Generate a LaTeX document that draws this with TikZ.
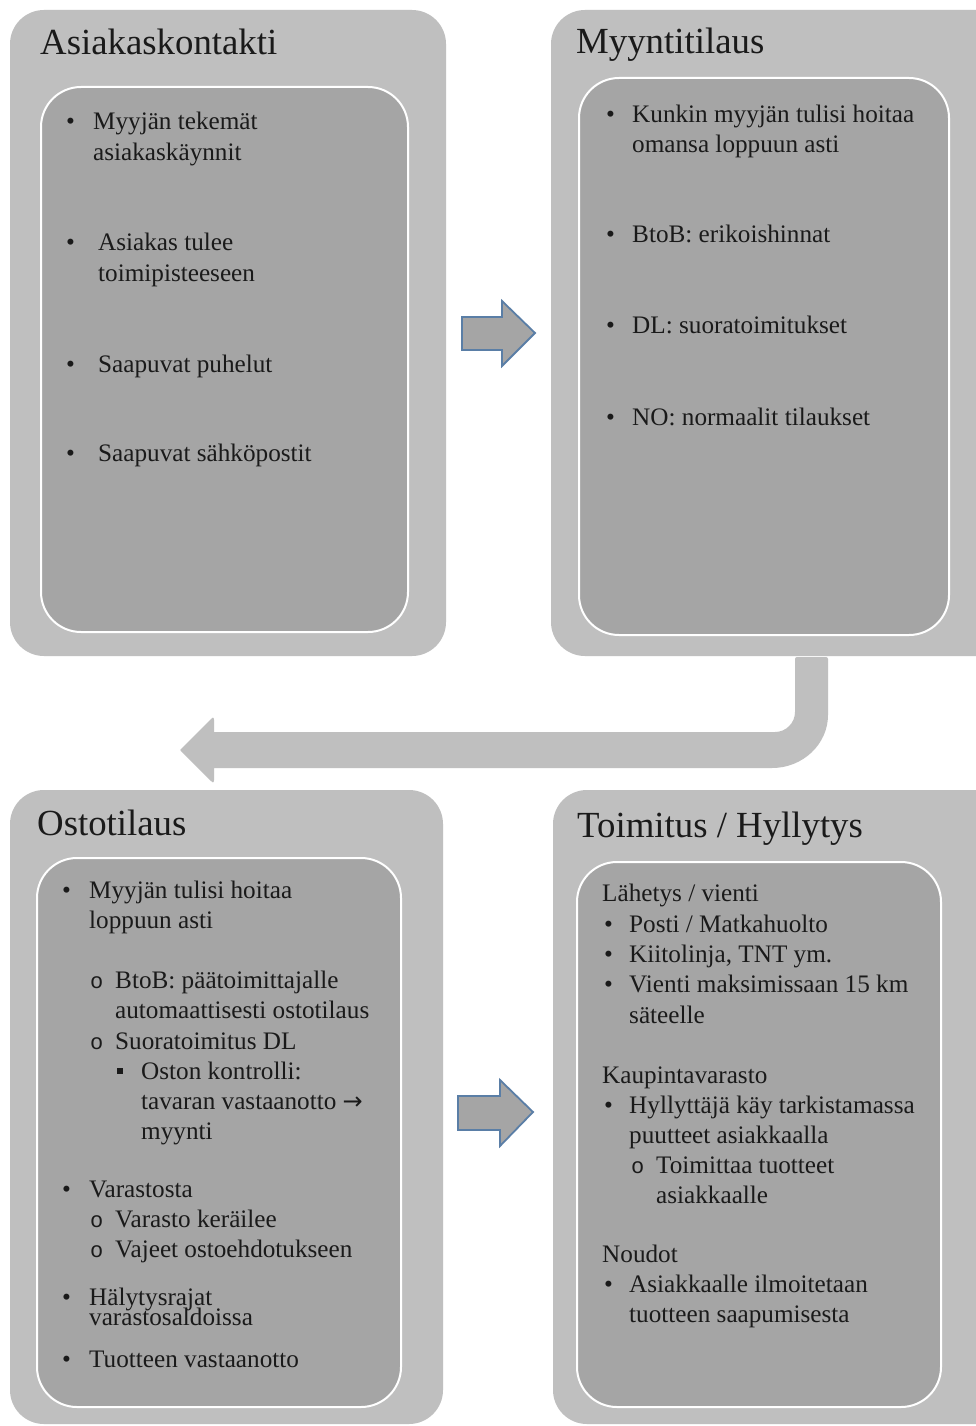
\documentclass[tikz,border=0pt]{standalone}
\usepackage{fontspec}
\setmainfont{Liberation Serif}
\newfontfamily\monof{Liberation Mono}
\newfontfamily\dejav{DejaVu Sans}
\definecolor{outerc}{HTML}{BFBFBF}
\definecolor{innerc}{HTML}{A5A5A5}
\definecolor{textc}{HTML}{1A1A1A}
\definecolor{arrowedge}{HTML}{5A7EA6}
\newcommand\bodyf{\fontsize{25.2}{30}\selectfont}
\newcommand\titlef{\fontsize{36.8}{40}\selectfont}
\newcommand\mytx[4]{\node[txt] (#1) at (#2,#3) {#4};}
\newcommand\mybu[3]{\node[txt] (#1) at (#2,#3) {•};}
\newcommand\myci[3]{\node[txt,font=\monof\fontsize{22}{26}\selectfont] (#1) at (#2,#3) {o};}
\newcommand\mysq[3]{\node[sqb] (#1) at (#2,#3) {};}
\begin{document}
\begin{tikzpicture}[x=1pt,y=-1pt,
  outerbox/.style={fill=outerc, rounded corners=34pt, inner sep=0pt},
  innerbox/.style={fill=innerc, draw=white, line width=2pt, rounded corners=40pt, inner sep=0pt},
  txt/.style={anchor=base west, inner sep=0pt, font=\bodyf, text=textc},
  ttl/.style={anchor=base west, inner sep=0pt, font=\titlef, text=textc},
  sqb/.style={fill=textc, minimum size=6.5pt, inner sep=0pt, anchor=center},
  blockarrow/.style={fill=innerc, draw=arrowedge, line width=1.8pt, line join=miter},
  bentarrow/.style={fill=outerc}]
\useasboundingbox (0,0) rectangle (976,1426);
\fill[white] (0,0) rectangle (976,1426);
% boxes
\path[outerbox] (10,10) rectangle (446,656);
\path[innerbox] (41,87) rectangle (408,632);
\path[outerbox] (551,10) rectangle (1010,656);
\path[innerbox] (579,78) rectangle (949,635);
\path[outerbox] (10,790) rectangle (443,1424);
\path[innerbox] (37,858) rectangle (401,1407);
\path[outerbox] (553,790) rectangle (1010,1424);
\path[innerbox] (577,862) rectangle (941,1407);
% titles
\node[ttl] (t1) at (40,55) {Asiakaskontakti};
\node[ttl] (t2) at (576,54) {Myyntitilaus};
\node[ttl] (t3) at (37,835) {Ostotilaus};
\node[ttl] (t4) at (577,837) {Toimitus / Hyllytys};
% block arrows
\draw[blockarrow] (462,317) -- (502,317) -- (502,301) -- (535,333) -- (502,366) -- (502,350) -- (462,350) -- cycle;
\draw[blockarrow] (458,1096) -- (500,1096) -- (500,1080) -- (533,1112) -- (500,1146) -- (500,1130) -- (458,1130) -- cycle;
% bent arrow
\fill[bentarrow] (797,657) -- (826,657) .. controls (827,657) and (828,658) .. (828,659)
  -- (828,715) .. controls (828,744) and (803,768) .. (772,768)
  -- (214,768) -- (214,780) .. controls (214,783) and (212,783) .. (211,781)
  -- (181,751) .. controls (180,750) and (180,750) .. (181,749)
  -- (211,719) .. controls (212,717) and (214,717) .. (214,720)
  -- (214,732) -- (775,732) .. controls (786,732) and (795,723) .. (795,712)
  -- (795,659) .. controls (795,658) and (796,657) .. (797,657) -- cycle;
% top-left content
\mybu{a1b}{66}{130}\mytx{a1}{93}{130}{Myyjän tekemät}
\mytx{a1c}{93}{160}{asiakaskäynnit}
\mybu{a2b}{66}{250}\mytx{a2}{98}{250}{Asiakas tulee}
\mytx{a2c}{98}{281}{toimipisteeseen}
\mybu{a3b}{66}{372}\mytx{a3}{98}{372}{Saapuvat puhelut}
\mybu{a4b}{66}{461}\mytx{a4}{98}{461}{Saapuvat sähköpostit}
% top-right content
\mybu{m1b}{606}{122}\mytx{m1}{632}{122}{Kunkin myyjän tulisi hoitaa}
\mytx{m1c}{632}{152}{omansa loppuun asti}
\mybu{m2b}{606}{242}\mytx{m2}{632}{242}{BtoB: erikoishinnat}
\mybu{m3b}{606}{333}\mytx{m3}{632}{333}{DL: suoratoimitukset}
\mybu{m4b}{606}{425}\mytx{m4}{632}{425}{NO: normaalit tilaukset}
% bottom-left content
\mybu{o1b}{62}{898}\mytx{o1}{89}{898}{Myyjän tulisi hoitaa}
\mytx{o1c}{89}{928}{loppuun asti}
\myci{o2b}{90}{988}\mytx{o2}{115}{988}{BtoB: päätoimittajalle}
\mytx{o2c}{115}{1018}{automaattisesti ostotilaus}
\myci{o3b}{90}{1049}\mytx{o3}{115}{1049}{Suoratoimitus DL}
\mysq{o4b}{120}{1071}\mytx{o4}{141}{1079}{Oston kontrolli:}
\mytx{o4c}{141}{1109}{tavaran vastaanotto {\dejav\fontsize{24}{26}\selectfont →}}
\mytx{o4d}{141}{1139}{myynti}
\mybu{o5b}{62}{1197}\mytx{o5}{89}{1197}{Varastosta}
\myci{o6b}{90}{1227}\mytx{o6}{115}{1227}{Varasto keräilee}
\myci{o7b}{90}{1257}\mytx{o7}{115}{1257}{Vajeet ostoehdotukseen}
\mybu{o8b}{62}{1305}\mytx{o8}{89}{1305}{Hälytysrajat}
\mytx{o8c}{89}{1325}{varastosaldoissa}
\mybu{o9b}{62}{1367}\mytx{o9}{89}{1367}{Tuotteen vastaanotto}
% bottom-right content
\mytx{h1}{602}{901}{Lähetys / vienti}
\mybu{h2b}{604}{932}\mytx{h2}{629}{932}{Posti / Matkahuolto}
\mybu{h3b}{604}{962}\mytx{h3}{629}{962}{Kiitolinja, TNT ym.}
\mybu{h4b}{604}{992}\mytx{h4}{629}{992}{Vienti maksimissaan 15 km}
\mytx{h4c}{629}{1023}{säteelle}
\mytx{h5}{602}{1083}{Kaupintavarasto}
\mybu{h6b}{604}{1113}\mytx{h6}{629}{1113}{Hyllyttäjä käy tarkistamassa}
\mytx{h6c}{629}{1143}{puutteet asiakkaalla}
\myci{h7b}{631}{1173}\mytx{h7}{656}{1173}{Toimittaa tuotteet}
\mytx{h7c}{656}{1203}{asiakkaalle}
\mytx{h8}{602}{1262}{Noudot}
\mybu{h9b}{604}{1292}\mytx{h9}{629}{1292}{Asiakkaalle ilmoitetaan}
\mytx{h9c}{629}{1322}{tuotteen saapumisesta}
\end{tikzpicture}
\end{document}
